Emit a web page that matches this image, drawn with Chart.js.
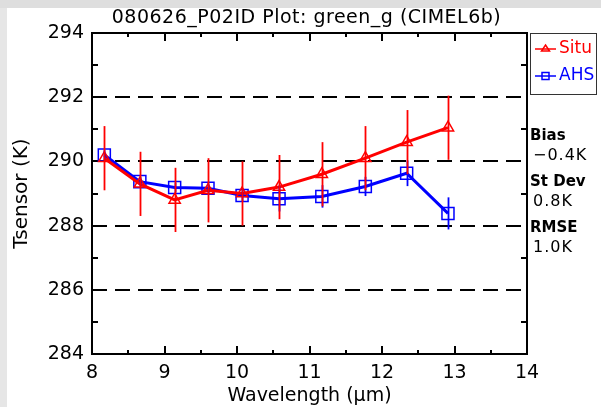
<!DOCTYPE html>
<html>
<head>
<meta charset="utf-8">
<script src="https://cdn.jsdelivr.net/npm/chart.js@4.4.0/dist/chart.umd.min.js"></script>
<style>
  html, body { margin: 0; padding: 0; background: #fff; overflow: hidden; }
  #wrap { width: 601px; height: 407px; }
  canvas { display: block; }
</style>
</head>
<body>
<div id="wrap"><canvas id="myChart" width="601" height="407"></canvas></div>
<script>
// datos
const wavelength = [8.17, 8.66, 9.14, 9.60, 10.07, 10.58, 11.17, 11.77, 12.34, 12.91];
const situ    = [290.1, 289.3, 288.8, 289.1, 289.0, 289.2, 289.6, 290.1, 290.6, 291.05];
const situErr = [1.0, 1.0, 1.0, 1.0, 1.0, 1.0, 1.0, 1.0, 1.0, 1.0];
const ahs     = [290.2, 289.37, 289.19, 289.16, 288.94, 288.84, 288.91, 289.22, 289.63, 288.38];
const ahsErr  = [0.15, 0.15, 0.15, 0.15, 0.2, 0.4, 0.35, 0.3, 0.4, 0.5];
const xTicks = [8, 9, 10, 11, 12, 13, 14];
const yTicks = [284, 286, 288, 290, 292, 294];
const title = "080626_P02ID Plot: green_g (CIMEL6b)";
const stats = [["Bias", "\u22120.4K"], ["St Dev", "0.8K"], ["RMSE", "1.0K"]];

const FONT = "'DejaVu Sans', sans-serif";
const RED = "#ff0000";
const BLUE = "#0000ff";

// fondo gris, marco, ticks, lineas discontinuas, barras de error, leyenda y textos
const plotExtras = {
  id: "plotExtras",
  beforeDraw(chart) {
    const c = chart.ctx;
    c.save();
    c.fillStyle = "#dedede";
    c.fillRect(0, 0, chart.width, 8);
    c.fillStyle = "#e6e6e6";
    c.fillRect(0, 8, 7, chart.height - 8);
    // titulo
    const a = chart.chartArea;
    c.fillStyle = "#000";
    c.font = "19px " + FONT;
    c.letterSpacing = "0.5px";
    c.textAlign = "center";
    c.textBaseline = "middle";
    c.fillText(title, (a.left + a.right) / 2 - 3, 18);
    c.letterSpacing = "0px";
    c.restore();
  },
  beforeDatasetsDraw(chart) {
    const c = chart.ctx, a = chart.chartArea;
    const xs = chart.scales.x, ys = chart.scales.y;
    c.save();
    c.strokeStyle = "#000";
    // lineas discontinuas
    c.lineWidth = 2;
    c.setLineDash([15, 8]);
    yTicks.slice(1, -1).forEach(v => {
      const y = Math.round(ys.getPixelForValue(v));
      c.beginPath();
      c.moveTo(a.left, y);
      c.lineTo(a.right, y);
      c.stroke();
    });
    c.setLineDash([]);
    // ticks menores del eje y
    for (let v = 285; v < 294; v += 2) {
      const y = Math.round(ys.getPixelForValue(v));
      c.beginPath();
      c.moveTo(a.left, y); c.lineTo(a.left + 6, y);
      c.moveTo(a.right, y); c.lineTo(a.right - 6, y);
      c.stroke();
    }
    // ticks del eje x (arriba y abajo)
    for (let v = 8.5; v < 14; v += 0.5) {
      const x = Math.round(xs.getPixelForValue(v));
      const len = Number.isInteger(v) ? 8 : 4;
      c.beginPath();
      c.moveTo(x, a.bottom); c.lineTo(x, a.bottom - len);
      c.moveTo(x, a.top); c.lineTo(x, a.top + len);
      c.stroke();
    }
    // marco
    c.strokeRect(a.left, a.top, a.right - a.left, a.bottom - a.top);
    c.restore();
  },
  afterDatasetsDraw(chart) {
    const c = chart.ctx;
    const xs = chart.scales.x, ys = chart.scales.y;
    c.save();
    c.lineWidth = 1.8;
    const bars = (vals, errs, col) => {
      c.strokeStyle = col;
      vals.forEach((v, i) => {
        const x = Math.round(xs.getPixelForValue(wavelength[i])) + 0.5;
        c.beginPath();
        c.moveTo(x, ys.getPixelForValue(v + errs[i]));
        c.lineTo(x, ys.getPixelForValue(v - errs[i]));
        c.stroke();
      });
    };
    bars(ahs, ahsErr, BLUE);
    bars(situ, situErr, RED);

    // leyenda
    c.lineWidth = 1;
    c.strokeStyle = "#333";
    c.strokeRect(530.5, 33.5, 66, 61);
    const items = [["Situ", RED, "tri", 49], ["AHS", BLUE, "sq", 76]];
    items.forEach(([txt, col, sym, y]) => {
      c.strokeStyle = col;
      c.lineWidth = 1.5;
      c.beginPath();
      c.moveTo(535, y); c.lineTo(556, y);
      c.stroke();
      c.beginPath();
      if (sym === "tri") {
        c.moveTo(545.5, y - 4); c.lineTo(549.5, y + 2); c.lineTo(541.5, y + 2); c.closePath();
      } else {
        c.rect(542, y - 3.5, 7, 7);
      }
      c.stroke();
      c.fillStyle = col;
      c.font = "17px " + FONT;
      c.textAlign = "left";
      c.textBaseline = "middle";
      c.fillText(txt, 559, y);
    });

    // estadisticas
    c.fillStyle = "#000";
    c.textAlign = "left";
    c.textBaseline = "middle";
    const ys0 = [136, 182, 228];
    stats.forEach(([lab, val], i) => {
      c.font = "bold 15px " + FONT;
      c.fillText(lab, 530, ys0[i]);
      c.font = "16px " + FONT;
      c.letterSpacing = "1px";
      c.fillText(val, 533, ys0[i] + 20);
      c.letterSpacing = "0px";
    });
    c.restore();
  }
};

const ctx = document.getElementById("myChart").getContext("2d");
const chart = new Chart(ctx, {
  type: "line",
  data: {
    datasets: [
      {
        label: "Situ",
        data: wavelength.map((w, i) => ({ x: w, y: situ[i] })),
        borderColor: RED,
        borderWidth: 3,
        pointStyle: "triangle",
        pointRadius: 6.5,
        pointBorderColor: RED,
        pointBorderWidth: 1.5,
        pointBackgroundColor: "rgba(0,0,0,0)",
        tension: 0
      },
      {
        label: "AHS",
        data: wavelength.map((w, i) => ({ x: w, y: ahs[i] })),
        borderColor: BLUE,
        borderWidth: 3,
        pointStyle: "rect",
        pointRadius: 8.5,
        pointBorderColor: BLUE,
        pointBorderWidth: 1.5,
        pointBackgroundColor: "rgba(0,0,0,0)",
        tension: 0
      }
    ]
  },
  options: {
    responsive: false,
    animation: false,
    devicePixelRatio: 1,
    layout: { padding: { left: 0, right: 74, top: 33, bottom: 0 } },
    plugins: { legend: { display: false }, tooltip: { enabled: false } },
    scales: {
      x: {
        type: "linear",
        min: 8,
        max: 14,
        afterBuildTicks: s => { s.ticks = xTicks.map(v => ({ value: v })); },
        ticks: { font: { family: FONT, size: 19 }, color: "#000", padding: 8, maxRotation: 0, autoSkip: false },
        grid: { display: false, drawTicks: false },
        border: { display: false },
        title: { display: true, text: "Wavelength (\u03bcm)", color: "#000", font: { family: FONT, size: 19 }, padding: 0 },
        afterFit: s => { s.height = 53; }
      },
      y: {
        min: 284,
        max: 294,
        afterBuildTicks: s => { s.ticks = yTicks.map(v => ({ value: v })); },
        ticks: { font: { family: FONT, size: 19 }, color: "#000", padding: 8, autoSkip: false },
        grid: { display: false, drawTicks: false },
        border: { display: false },
        title: { display: true, text: "Tsensor (K)", color: "#000", font: { family: FONT, size: 20 }, padding: { top: 10, bottom: 0 } },
        afterFit: s => { s.width = 92; }
      }
    }
  },
  plugins: [plotExtras]
});
</script>
</body>
</html>
